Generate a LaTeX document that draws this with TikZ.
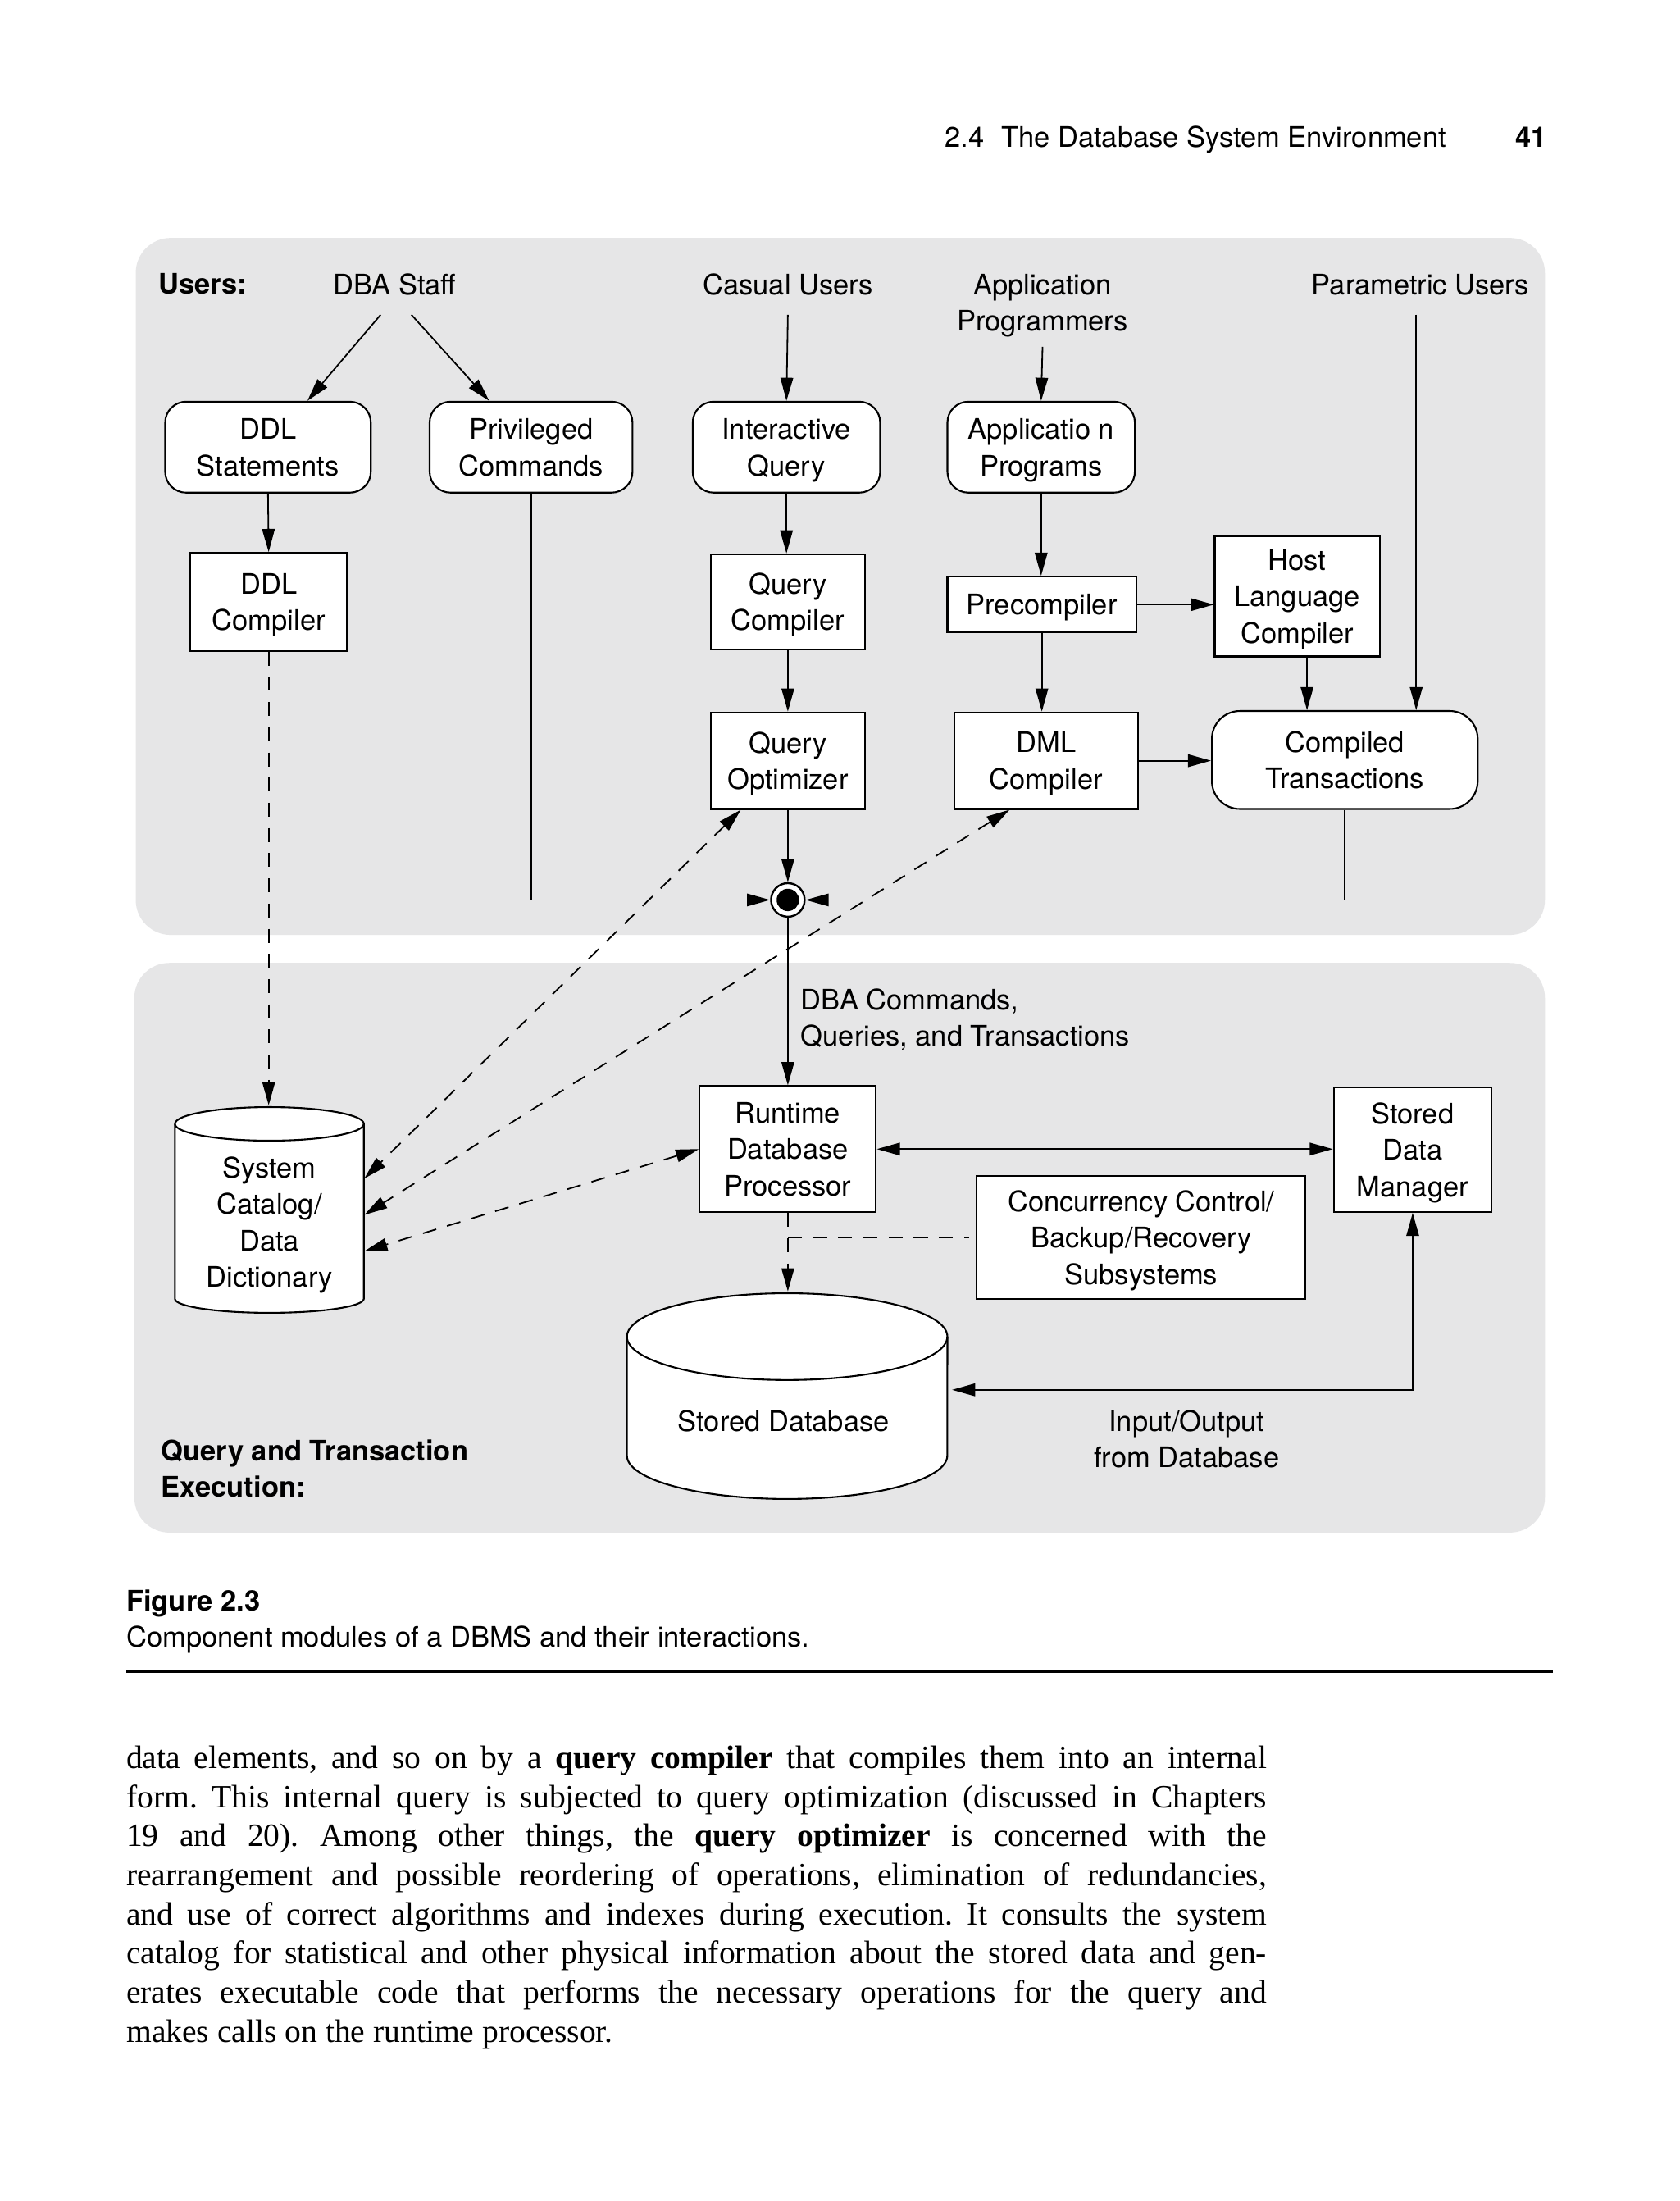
\documentclass[tikz,border=0pt]{standalone}
\usepackage{fontspec}
\setmainfont{TeX Gyre Heros}
\newfontfamily\bodyfont{Liberation Serif}
\usetikzlibrary{arrows.meta}
\definecolor{panelgray}{RGB}{230,230,231}
\begin{document}
\fontsize{11.5}{14.8}\selectfont
\begin{tikzpicture}[x=0.02cm,y=-0.02cm,
  >={Triangle[length=3.3mm,width=1.8mm]},
  blk/.style={draw,fill=white,line width=0.7pt,align=center,inner sep=0pt,text depth=0pt},
  rnd/.style={blk,rounded corners=0.3cm},
  lbl/.style={align=center,inner xsep=0pt,inner ysep=0.28cm,text depth=0pt},
  wire/.style={line width=0.6pt},
  dsh/.style={line width=0.6pt,dash pattern=on 2mm off 1.6mm}]
\fill[white] (0,0) rectangle (1200,1572.6);
\useasboundingbox (0,0) rectangle (1200,1572.6);
\fill[panelgray,rounded corners=0.5cm] (97,170) rectangle (1104,668);
\fill[panelgray,rounded corners=0.5cm] (96,688) rectangle (1104,1095);
\node[anchor=base west,inner sep=0pt] (HDR) at (675,105) {2.4\hspace{0.6em}The Database System Environment};
\node[anchor=base east,inner sep=0pt,font=\bfseries] (PG) at (1106,105) {41};
\node[anchor=west,inner sep=0pt,font=\bfseries] (USR) at (113,203) {Users:};
\node[lbl] (DBA) at (282,203) {DBA Staff};
\node[lbl] (CU) at (563,203) {Casual Users};
\node[lbl,inner ysep=0.22cm] (APR) at (745,216) {Application\\Programmers};
\node[lbl] (PU) at (1015,203) {Parametric Users};
\node[rnd,minimum width=2.94cm,minimum height=1.3cm] (DDLS) at (191.5,319.5) {DDL\\Statements};
\node[rnd,minimum width=2.9cm,minimum height=1.3cm] (PRIV) at (379.5,319.5) {Privileged\\Commands};
\node[rnd,minimum width=2.68cm,minimum height=1.3cm] (IQ) at (562,319.5) {Interactive\\Query};
\node[rnd,minimum width=2.68cm,minimum height=1.3cm] (AP) at (744,319.5) {Applicatio n\\Programs};
\node[blk,minimum width=2.24cm,minimum height=1.4cm] (DDLC) at (192,430) {DDL\\Compiler};
\node[blk,minimum width=2.2cm,minimum height=1.36cm] (QC) at (563,430) {Query\\Compiler};
\node[blk,minimum width=2.7cm,minimum height=0.8cm] (PRE) at (744.5,432) {Precompiler};
\node[blk,minimum width=2.36cm,minimum height=1.72cm] (HLC) at (927,426) {Host\\Language\\Compiler};
\node[blk,minimum width=2.2cm,minimum height=1.38cm] (QO) at (563,543.5) {Query\\Optimizer};
\node[blk,minimum width=2.62cm,minimum height=1.38cm] (DMLC) at (747.5,543.5) {DML\\Compiler};
\node[blk,rounded corners=0.4cm,minimum width=3.8cm,minimum height=1.4cm] (CT) at (961,543) {Compiled\\Transactions};
\node[draw,circle,fill=white,line width=0.8pt,minimum size=0.48cm,inner sep=0pt] (J) at (563,643) {};
\fill (J) circle (0.16cm);
\draw[wire,->] ([xshift=-0.2cm]DBA.south) -- (DDLS);
\draw[wire,->] ([xshift=0.24cm]DBA.south) -- (PRIV);
\draw[wire,->] (CU.south) -- (IQ.north);
\draw[wire,->] (APR.south) -- (AP.north);
\draw[wire,->] ([xshift=-0.06cm]PU.south) -- ([xshift=-0.06cm]PU.south |- CT.north);
\draw[wire,->] (DDLS.south) -- (DDLC.north);
\draw[wire,->] (IQ.south) -- (IQ.south |- QC.north);
\draw[wire,->] (QC.south) -- (QO.north);
\draw[wire,->] (AP.south) -- (AP.south |- PRE.north);
\draw[wire,->] (PRE.south) -- (PRE.south |- DMLC.north);
\draw[wire,->] (PRE.east) -- (PRE.east -| HLC.west);
\draw[wire,->] ([xshift=0.14cm]HLC.south) -- ([xshift=0.14cm]HLC.south |- CT.north);
\draw[wire,->] (DMLC.east) -- (DMLC.east -| CT.west);
\draw[wire,->] (QO.south) -- (J.north);
\draw[wire,->] (PRIV.south) |- (J.west);
\draw[wire,->] (CT.south) |- (J.east);
\draw[fill=white,line width=0.7pt] (125,803) -- (125,928) arc[start angle=180,end angle=360,x radius=1.35cm,y radius=0.2cm] -- (260,803) arc[start angle=0,end angle=180,x radius=1.35cm,y radius=0.24cm] -- cycle;
\draw[line width=0.7pt] (125,803) arc[start angle=180,end angle=360,x radius=1.35cm,y radius=0.24cm];
\draw[fill=white,line width=0.7pt] (448,955) -- (448,1040) arc[start angle=180,end angle=360,x radius=2.29cm,y radius=0.62cm] -- (677,955) arc[start angle=0,end angle=180,x radius=2.29cm,y radius=0.62cm] -- cycle;
\draw[line width=0.7pt] (448,955) arc[start angle=180,end angle=360,x radius=2.29cm,y radius=0.62cm];
\node[align=center,inner sep=0pt,text depth=0pt,minimum width=2.7cm,minimum height=3.32cm] (SC) at (192.5,873) {System\\Catalog/\\Data\\Dictionary};
\node[inner sep=0pt,text depth=0pt,minimum width=4.68cm,minimum height=3.68cm] (SD) at (560,1015) {Stored Database};
\node[blk,minimum width=2.52cm,minimum height=1.8cm] (RDP) at (563,821) {Runtime\\Database\\Processor};
\node[blk,minimum width=2.26cm,minimum height=1.78cm] (SDM) at (1009.5,821.5) {Stored\\Data\\Manager};
\node[blk,minimum width=4.7cm,minimum height=1.76cm] (CC) at (815.5,884) {Concurrency Control/\\Backup/Recovery\\Subsystems};
\node[anchor=west,align=left,inner sep=0pt,text depth=0pt] (DBAC) at (572,727) {DBA Commands,\\Queries, and Transactions};
\node[align=center,inner sep=0pt,text depth=0pt] (IOL) at (848,1028) {Input/Output\\from Database};
\node[anchor=west,align=left,inner sep=0pt,text depth=0pt,font=\bfseries] (QTE) at (115,1049) {Query and Transaction\\Execution:};
\draw[wire,->] (J.south) -- (RDP.north);
\draw[dsh,->] (DDLC.south) -- (DDLC.south |- SC.north);
\draw[dsh,<->] ([xshift=0.44cm]QO.south west) -- ([yshift=0.62cm]SC.east);
\draw[dsh,<->] ([xshift=0.8cm]DMLC.south west) -- ([yshift=0.1cm]SC.east);
\draw[dsh,<->] (RDP.west) -- ([yshift=-0.42cm]SC.east);
\draw[wire,<->] (RDP.east) -- (RDP.east -| SDM.west);
\draw[dsh,->] (RDP.south) -- (RDP.south |- SD.north);
\draw[dsh] (RDP.south |- CC.west) -- ([xshift=-0.1cm]CC.west);
\draw[wire,<->] ([yshift=0.44cm,xshift=0.06cm]SD.east) -| (SDM.south);
\node[anchor=base west,inner sep=0pt,font=\bfseries] (FIG) at (90,1151) {Figure 2.3};
\node[anchor=base west,inner sep=0pt] (CAP) at (90,1177) {Component modules of a DBMS and their interactions.};
\draw[line width=1.1pt] (90,1194) -- (1110,1194);
\node[anchor=north west,inner sep=0pt,text width=16.3cm,align=justify,font=\bodyfont\fontsize{13.2}{15.9}\selectfont\frenchspacing] (PAR) at (90,1247) {data elements, and so on by a \textbf{query compiler} that compiles them into an internal\linebreak
form. This internal query is subjected to query optimization (discussed in Chapters\linebreak
19 and 20). Among other things, the \textbf{query optimizer} is concerned with the\linebreak
rearrangement and possible reordering of operations, elimination of redundancies,\linebreak
and use of correct algorithms and indexes during execution. It consults the system\linebreak
catalog for statistical and other physical information about the stored data and gen-\linebreak
erates executable code that performs the necessary operations for the query and\linebreak
makes calls on the runtime processor.};
\end{tikzpicture}
\end{document}
